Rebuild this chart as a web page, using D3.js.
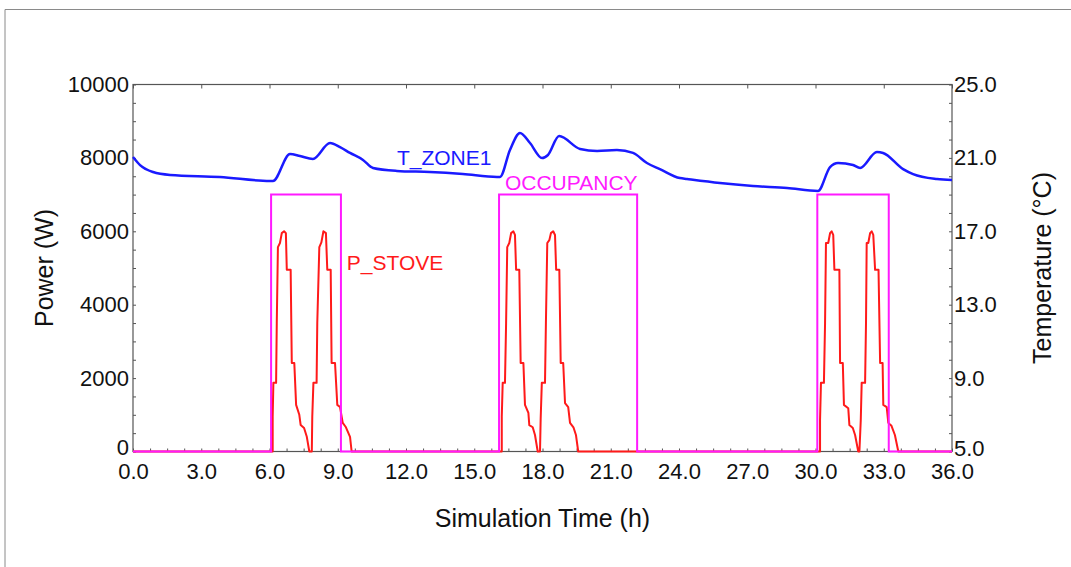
<!DOCTYPE html>
<html lang="en">
<head>
  <meta charset="UTF-8" />
  <title>Zone temperature, stove power and occupancy</title>
  <script src="https://cdn.jsdelivr.net/npm/d3@7"></script>
  <style>
    html, body { margin: 0; padding: 0; background: #fff; overflow: hidden; }
    svg { display: block; }
    text { font-family: "Liberation Sans", Arial, sans-serif; fill: #111; }
  </style>
</head>
<body>
  <script>
    // Zone air temperature (h, °C)
    const tZone1 = [
      [0, 21.05], [0.31, 20.61], [0.88, 20.23], [1.63, 20.07], [3.82, 19.96],
      [6.02, 19.74], [6.15, 19.74], [6.9, 21.21], [7.34, 21.1], [7.91, 20.94],
      [8.66, 21.81], [9.1, 21.59], [9.54, 21.27], [10.11, 20.89], [10.55, 20.45],
      [11.6, 20.29], [13.05, 20.23], [14.5, 20.12], [16.0, 19.96], [16.13, 19.96],
      [16.57, 21.43], [17.01, 22.36], [17.45, 21.81], [17.98, 20.99], [18.24, 21.16],
      [18.73, 22.19], [19.65, 21.49], [20.4, 21.38], [21.27, 21.43], [21.98, 21.27],
      [22.59, 20.72], [23.16, 20.39], [24.04, 19.9], [24.35, 19.85], [25.8, 19.63],
      [27.25, 19.47], [28.75, 19.36], [30.11, 19.2], [30.64, 20.5], [30.99, 20.72],
      [31.65, 20.61], [31.96, 20.45], [32.7, 21.32], [32.97, 21.27], [33.85, 20.39],
      [34.29, 20.12], [35.34, 19.85], [36, 19.79]
    ];

    // Stove power (h, W), red curve
    const pStove = [
      [0, 0],
      [6.14, 0], [6.14, 950], [6.17, 1870], [6.29, 1870], [6.32, 3500], [6.37, 5570],
      [6.46, 5680], [6.54, 5950], [6.64, 6000], [6.72, 5950], [6.76, 4950], [6.93, 4950],
      [6.98, 2410], [7.09, 2410], [7.17, 1270], [7.31, 1000], [7.37, 720], [7.52, 640],
      [7.64, 400], [7.75, 0],
      [7.86, 0], [7.88, 950], [7.93, 1870], [8.07, 1870], [8.1, 3500], [8.19, 5570],
      [8.28, 5700], [8.37, 6000], [8.48, 5950], [8.54, 4950], [8.69, 4950], [8.73, 2410],
      [8.88, 2410], [8.98, 1270], [9.1, 1210], [9.22, 780], [9.36, 660], [9.54, 400],
      [9.61, 0],
      [16.21, 0], [16.21, 950], [16.25, 1870], [16.35, 1870], [16.4, 3500], [16.45, 5570],
      [16.54, 5680], [16.62, 5950], [16.72, 6000], [16.79, 5900], [16.84, 4950], [16.98, 4950],
      [17.04, 2410], [17.16, 2410], [17.23, 1270], [17.38, 1050], [17.42, 720], [17.57, 660],
      [17.67, 450], [17.79, 0],
      [17.89, 0], [17.92, 900], [17.97, 1870], [18.11, 1870], [18.15, 3500], [18.21, 5680],
      [18.3, 5760], [18.37, 5950], [18.47, 6000], [18.55, 5900], [18.6, 4950], [18.74, 4950],
      [18.8, 2410], [18.91, 2410], [18.99, 1320], [19.13, 1210], [19.21, 780], [19.36, 660],
      [19.47, 450], [19.57, 0],
      [30.2, 0], [30.2, 850], [30.24, 1870], [30.37, 1870], [30.42, 3500], [30.46, 5680],
      [30.56, 5680], [30.64, 5950], [30.71, 6000], [30.78, 5900], [30.83, 4950], [31.05, 4950],
      [31.08, 2410], [31.2, 2410], [31.25, 1270], [31.44, 1180], [31.49, 720], [31.64, 640],
      [31.74, 450], [31.88, 0],
      [31.93, 0], [31.99, 850], [32.03, 1870], [32.18, 1870], [32.22, 3500], [32.25, 5680],
      [32.32, 5680], [32.4, 5950], [32.47, 6000], [32.54, 5900], [32.62, 4950], [32.77, 4950],
      [32.84, 2410], [32.95, 2410], [32.98, 1270], [33.13, 1210], [33.2, 780], [33.34, 700],
      [33.49, 450], [33.64, 0],
      [36, 0]
    ];

    // Occupancy signal (h, plotted level on the power axis)
    const occupancy = [
      [0, 0], [6.07, 0], [6.07, 7000], [9.14, 7000], [9.14, 0],
      [16.09, 0], [16.09, 7000], [22.16, 7000], [22.16, 0],
      [30.08, 0], [30.08, 7000], [33.22, 7000], [33.22, 0], [36, 0]
    ];

    const timeTicks = [0, 3, 6, 9, 12, 15, 18, 21, 24, 27, 30, 33, 36];
    const powerTicks = [0, 2000, 4000, 6000, 8000, 10000];
    const tempTicks = [5, 9, 13, 17, 21, 25];

    // Curve labels: [text, hour, power-axis value, colour]
    const curveLabels = [
      ["T_ZONE1", 11.6, 7820, "#1a1aff"],
      ["OCCUPANCY", 16.35, 7120, "#ff1aff"],
      ["P_STOVE", 9.4, 4950, "#ff1a1a"]
    ];

    const width = 1071, height = 567;
    const margin = { top: 84.5, right: 119, bottom: 115.5, left: 133 };

    const svg = d3.select("body").append("svg")
      .attr("width", width)
      .attr("height", height);

    // light frame of the original figure
    svg.append("path")
      .attr("d", `M5,${height} V9.5 H${width}`)
      .attr("fill", "none")
      .attr("stroke", "#8a8a8a")
      .attr("stroke-width", 1);

    const x = d3.scaleLinear().domain([0, 36]).range([margin.left, width - margin.right]);
    const yP = d3.scaleLinear().domain([0, 10000]).range([height - margin.bottom, margin.top]);
    const yT = d3.scaleLinear().domain([5, 25]).range([height - margin.bottom, margin.top]);

    const x0 = x(0), x1 = x(36), y0 = yP(0), y1 = yP(10000);
    const axisColor = "#555";

    // minor ticks
    const minorTime = d3.range(0, 36.01, 0.75);
    const minorPower = d3.range(0, 10001, 500);
    const minorTemp = d3.range(5, 25.01, 1);

    function styleAxis(g) {
      g.select(".domain").remove();
      g.selectAll(".tick line").attr("stroke", axisColor);
    }

    svg.append("g")
      .attr("transform", `translate(0,${y0})`)
      .call(d3.axisBottom(x).tickValues(minorTime).tickSize(-3).tickFormat(""))
      .call(styleAxis);
    svg.append("g")
      .attr("transform", `translate(0,${y1})`)
      .call(d3.axisTop(x).tickValues(timeTicks).tickSize(-4).tickFormat(""))
      .call(styleAxis);
    svg.append("g")
      .attr("transform", `translate(${x0},0)`)
      .call(d3.axisLeft(yP).tickValues(minorPower).tickSize(-3).tickFormat(""))
      .call(styleAxis);
    svg.append("g")
      .attr("transform", `translate(${x1},0)`)
      .call(d3.axisRight(yT).tickValues(minorTemp).tickSize(-3).tickFormat(""))
      .call(styleAxis);

    // plot frame
    svg.append("rect")
      .attr("x", x0).attr("y", y1)
      .attr("width", x1 - x0).attr("height", y0 - y1)
      .attr("fill", "none")
      .attr("stroke", axisColor)
      .attr("stroke-width", 1.2);

    // tick labels
    const bottomAxis = svg.append("g")
      .attr("transform", `translate(0,${y0})`)
      .call(d3.axisBottom(x).tickValues(timeTicks).tickSize(0).tickPadding(12).tickFormat(d3.format(".1f")));
    const leftAxis = svg.append("g")
      .attr("transform", `translate(${x0},0)`)
      .call(d3.axisLeft(yP).tickValues(powerTicks).tickSize(0).tickPadding(4).tickFormat(d3.format("d")));
    const rightAxis = svg.append("g")
      .attr("transform", `translate(${x1},0)`)
      .call(d3.axisRight(yT).tickValues(tempTicks).tickSize(0).tickPadding(2).tickFormat(d3.format(".1f")));
    [bottomAxis, leftAxis, rightAxis].forEach(g => {
      g.select(".domain").remove();
      g.selectAll("text")
        .attr("font-size", 22)
        .attr("font-family", "'Liberation Sans', Arial, sans-serif")
        .attr("fill", "#111");
    });
    // the lowest side labels sit a touch higher so they clear the time labels
    leftAxis.selectAll(".tick text").filter(d => d === 0).attr("dy", "0.12em");
    rightAxis.selectAll(".tick text").filter(d => d === 5).attr("dy", "0.2em");

    // series
    const lineP = d3.line().x(d => x(d[0])).y(d => yP(d[1]));
    const lineT = d3.line().x(d => x(d[0])).y(d => yT(d[1])).curve(d3.curveMonotoneX);

    svg.append("path")
      .datum(pStove)
      .attr("d", lineP)
      .attr("fill", "none")
      .attr("stroke", "#ff1a1a")
      .attr("stroke-width", 2)
      .attr("stroke-linejoin", "round");

    svg.append("path")
      .datum(occupancy)
      .attr("d", lineP)
      .attr("fill", "none")
      .attr("stroke", "#ff1aff")
      .attr("stroke-width", 2);

    svg.append("path")
      .datum(tZone1)
      .attr("d", lineT)
      .attr("fill", "none")
      .attr("stroke", "#1a1aff")
      .attr("stroke-width", 2.5)
      .attr("stroke-linejoin", "round");

    // curve labels
    svg.selectAll(".curve-label")
      .data(curveLabels)
      .join("text")
      .attr("class", "curve-label")
      .attr("x", d => x(d[1]))
      .attr("y", d => yP(d[2]))
      .attr("font-size", 21)
      .style("fill", d => d[3])
      .text(d => d[0]);

    // axis titles
    svg.append("text")
      .attr("x", (x0 + x1) / 2)
      .attr("y", 527)
      .attr("text-anchor", "middle")
      .attr("font-size", 25)
      .text("Simulation Time (h)");

    svg.append("text")
      .attr("transform", `translate(53,${(y0 + y1) / 2}) rotate(-90)`)
      .attr("text-anchor", "middle")
      .attr("font-size", 25)
      .text("Power (W)");

    svg.append("text")
      .attr("transform", `translate(1051,${(y0 + y1) / 2}) rotate(-90)`)
      .attr("text-anchor", "middle")
      .attr("font-size", 25)
      .text("Temperature (°C)");
  </script>
</body>
</html>
